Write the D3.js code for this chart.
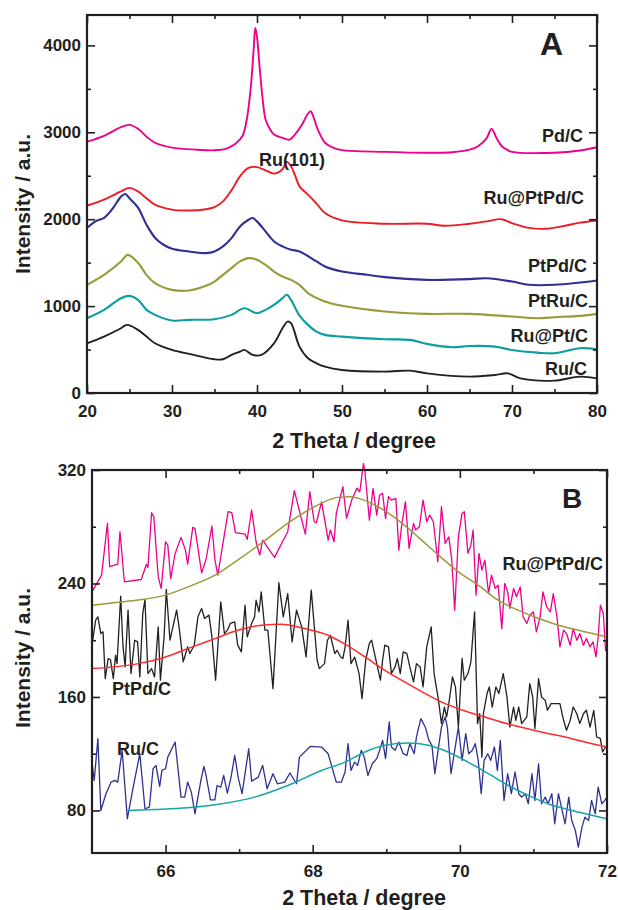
<!DOCTYPE html>
<html>
<head>
<meta charset="utf-8">
<script src="https://cdn.jsdelivr.net/npm/d3@7"></script>
<style>
  body { margin: 0; background: #fff; }
  svg text { font-family: "Liberation Sans", Arial, sans-serif; font-weight: bold; fill: #231f20; }
</style>
</head>
<body>
<div id="chart"></div>
<script>
// ---- panel A: XRD patterns, [2theta, intensity]
var pdC = [[20,2893],[22,2960],[24,3060],[25,3085],[26,3040],[27,2950],[28,2880],[30,2824],[33,2800],[35,2793],[36.5,2815],[37.5,2870],[38.3,2960],[38.8,3150],[39.3,3550],[39.6,3950],[39.8,4200],[40.0,4100],[40.3,3760],[40.7,3350],[41,3150],[41.5,3040],[42,2974],[43,2935],[43.8,2915],[44.5,2980],[45.3,3090],[45.9,3200],[46.3,3243],[46.7,3160],[47,3070],[47.5,2960],[48,2880],[49,2820],[50,2795],[55,2775],[60,2765],[63,2770],[65,2800],[66,2840],[67,2930],[67.6,3040],[68.2,2930],[68.8,2840],[69.5,2795],[70,2775],[75,2765],[78,2790],[80,2828]];
var ruPtPdC = [[20,2155],[22,2225],[24,2320],[25,2360],[26,2320],[27,2240],[28,2167],[30,2110],[32,2100],[34,2115],[35,2140],[36,2205],[37,2332],[38,2493],[39,2590],[40,2600],[41,2563],[42,2525],[43,2575],[43.5,2660],[44,2610],[44.5,2500],[45,2378],[46,2282],[47,2180],[48,2071],[50,1986],[55,1948],[60,1948],[62,1925],[65,1948],[67,1975],[68.8,2000],[70,1955],[72,1900],[74,1890],[76,1920],[78,1960],[80,1985]];
var ptPdC = [[20,1898],[21,1975],[22,2015],[23,2120],[24,2260],[24.5,2290],[25,2240],[26,2133],[27,1937],[28,1787],[29,1706],[30,1660],[32,1629],[34,1610],[35,1629],[36,1687],[37,1783],[38,1917],[39,1994],[39.5,2013],[40,1975],[41,1860],[42,1744],[43,1687],[44,1648],[45,1629],[47,1514],[48,1456],[50,1398],[53,1360],[55,1333],[60,1302],[65,1310],[67,1321],[70,1283],[72,1245],[75,1245],[78,1272],[80,1295]];
var ptRuC = [[20,1245],[22,1360],[24,1514],[24.8,1590],[26,1498],[27,1360],[28,1264],[30,1187],[32,1180],[34,1234],[35,1283],[36,1360],[37,1437],[38,1514],[39,1552],[40,1533],[41,1475],[42,1398],[43,1341],[44,1302],[45,1245],[46,1150],[48,1053],[50,1003],[55,938],[60,911],[65,911],[70,880],[73,861],[75,872],[78,888],[80,911]];
var ruPtC = [[20,861],[22,957],[24,1091],[25,1118],[26,1072],[27,957],[28,899],[30,834],[32,842],[35,849],[37,899],[38.5,976],[40,918],[41,957],[42,1014],[43,1091],[43.5,1130],[44,1072],[45,890],[46,784],[47,707],[48,669],[50,649],[55,619],[58,611],[60,565],[63,526],[65,541],[68,534],[70,495],[73,465],[75,457],[78,515],[80,503]];
var ruC = [[20,572],[22,649],[24,745],[24.7,784],[26,726],[27,649],[28,572],[30,496],[32,450],[35,388],[36,388],[37,438],[38,476],[38.5,496],[39.5,438],[40.5,438],[42,572],[43,745],[43.6,822],[44,803],[45,534],[46,400],[47,342],[48,303],[50,265],[55,246],[58,257],[60,226],[65,188],[68,207],[69.5,226],[71,168],[75,142],[78,188],[80,168]];

// ---- panel B: raw scans and their fitted peaks
var ruPtPdB = [[65.0,234.1],[65.13,245.9],[65.21,282.4],[65.24,251.8],[65.35,253.6],[65.38,276.5],[65.44,241.2],[65.67,242.8],[65.74,253.6],[65.76,251.3],[65.81,289.9],[65.84,287.1],[65.90,244.7],[65.94,236.5],[66.00,269.4],[66.03,267.1],[66.07,243.5],[66.13,261.2],[66.21,272.5],[66.27,263.5],[66.30,253.6],[66.37,279.5],[66.40,278.8],[66.49,247.5],[66.55,256.9],[66.63,280.5],[66.67,256.9],[66.71,245.9],[66.85,290.6],[66.90,289.9],[66.95,275.8],[67.08,274.8],[67.11,271.1],[67.17,291.8],[67.23,269.4],[67.28,260.0],[67.32,270.6],[67.48,258.4],[67.66,276.5],[67.75,305.4],[67.90,274.8],[67.96,304.7],[68.02,283.5],[68.05,282.8],[68.12,297.6],[68.21,270.6],[68.24,277.7],[68.29,269.4],[68.32,289.4],[68.41,308.2],[68.46,286.0],[68.53,298.8],[68.60,307.1],[68.64,304.7],[68.69,324.7],[68.71,318.8],[68.77,284.7],[68.82,307.1],[68.87,288.2],[68.91,302.4],[68.95,303.5],[68.99,285.9],[69.03,301.2],[69.07,298.8],[69.13,300.0],[69.17,263.5],[69.21,281.2],[69.26,297.6],[69.31,264.7],[69.37,282.4],[69.40,277.7],[69.45,280.0],[69.50,298.8],[69.55,283.5],[69.59,288.2],[69.64,283.5],[69.70,255.3],[69.75,294.1],[69.80,268.2],[69.85,272.9],[69.89,256.5],[69.93,221.2],[69.98,272.9],[70.03,289.4],[70.06,290.6],[70.11,261.2],[70.15,267.1],[70.18,277.7],[70.22,231.8],[70.26,261.2],[70.30,249.4],[70.34,256.5],[70.39,232.9],[70.43,245.9],[70.48,236.5],[70.52,238.8],[70.57,208.2],[70.61,240.0],[70.65,234.1],[70.68,222.4],[70.73,236.5],[70.77,230.6],[70.82,237.6],[70.86,216.5],[70.91,211.8],[70.95,217.6],[71.00,220.0],[71.04,205.9],[71.09,216.5],[71.13,234.1],[71.18,223.5],[71.23,220.0],[71.27,232.9],[71.32,216.5],[71.36,195.3],[71.41,207.1],[71.45,204.7],[71.50,196.5],[71.54,208.2],[71.59,200.0],[71.63,204.7],[71.68,196.5],[71.72,201.2],[71.77,195.3],[71.81,198.8],[71.85,188.2],[71.88,202.4],[71.91,224.7],[71.95,218.8],[71.98,192.9],[72.0,191.8]];
var ptPdB = [[65.01,200.0],[65.05,214.1],[65.08,216.5],[65.12,204.7],[65.15,205.9],[65.18,172.9],[65.22,187.1],[65.25,186.4],[65.29,172.9],[65.32,189.4],[65.34,183.5],[65.39,231.1],[65.42,196.5],[65.45,181.2],[65.49,221.2],[65.53,176.5],[65.58,200.0],[65.62,198.8],[65.65,174.1],[65.69,218.8],[65.72,228.7],[65.76,176.5],[65.81,180.0],[65.85,174.1],[65.90,209.4],[65.93,171.8],[65.98,202.4],[66.01,235.8],[66.06,200.0],[66.10,209.4],[66.15,221.2],[66.18,210.6],[66.24,184.7],[66.30,195.3],[66.33,190.6],[66.39,196.5],[66.44,216.5],[66.49,222.4],[66.53,215.3],[66.59,217.7],[66.63,202.4],[66.68,171.8],[66.75,227.1],[66.80,204.7],[66.84,207.1],[66.88,211.8],[66.94,212.9],[66.98,196.5],[67.03,191.8],[67.08,224.7],[67.11,202.4],[67.17,211.8],[67.21,216.5],[67.23,228.2],[67.27,220.0],[67.30,234.1],[67.35,207.1],[67.39,207.1],[67.46,165.9],[67.54,240.5],[67.60,216.5],[67.66,232.9],[67.72,198.8],[67.78,221.2],[67.85,209.4],[67.91,188.2],[67.98,235.3],[68.06,185.9],[68.09,180.0],[68.16,183.5],[68.20,200.0],[68.24,203.5],[68.30,190.6],[68.33,192.9],[68.38,188.2],[68.41,187.1],[68.44,195.3],[68.48,214.1],[68.52,183.5],[68.57,188.2],[68.63,176.5],[68.67,158.8],[68.72,185.9],[68.77,197.7],[68.80,200.0],[68.86,185.9],[68.92,171.8],[68.95,185.9],[68.98,196.5],[69.03,195.3],[69.07,176.5],[69.12,181.2],[69.15,187.1],[69.19,176.5],[69.23,191.8],[69.28,190.6],[69.32,181.2],[69.37,170.6],[69.41,183.5],[69.46,181.2],[69.50,167.1],[69.55,195.3],[69.61,209.4],[69.65,176.5],[69.71,157.6],[69.75,141.2],[69.79,152.9],[69.82,145.9],[69.85,155.3],[69.90,174.1],[69.94,167.1],[69.98,138.8],[70.03,187.1],[70.06,171.8],[70.11,176.5],[70.15,184.7],[70.20,220.0],[70.24,141.2],[70.27,148.2],[70.30,117.6],[70.32,148.2],[70.37,162.4],[70.40,167.1],[70.44,152.9],[70.49,167.1],[70.53,162.4],[70.59,176.5],[70.64,160.0],[70.68,138.8],[70.73,152.9],[70.76,143.5],[70.80,152.9],[70.84,141.2],[70.91,145.9],[70.95,169.4],[70.99,160.0],[71.02,137.6],[71.07,172.9],[71.11,160.0],[71.16,157.6],[71.19,150.6],[71.24,155.3],[71.29,155.3],[71.36,155.3],[71.41,143.5],[71.45,136.5],[71.50,143.5],[71.54,152.9],[71.59,148.2],[71.63,141.2],[71.68,148.2],[71.72,150.6],[71.77,138.8],[71.82,150.6],[71.86,131.8],[71.91,130.6],[71.94,121.2],[71.98,124.7]];
var ruB = [[65.0,114.1],[65.03,101.2],[65.08,130.6],[65.12,80.0],[65.19,91.8],[65.26,100.0],[65.31,101.2],[65.35,100.0],[65.41,122.4],[65.48,74.1],[65.56,96.5],[65.65,120.0],[65.72,81.2],[65.78,82.4],[65.83,109.4],[65.87,111.8],[65.92,96.9],[65.95,108.2],[66.00,109.4],[66.03,117.6],[66.13,128.2],[66.21,89.4],[66.26,89.4],[66.30,100.0],[66.35,92.9],[66.40,77.6],[66.48,101.2],[66.52,111.1],[66.55,104.7],[66.61,87.5],[66.67,87.5],[66.70,97.6],[66.75,96.5],[66.79,104.7],[66.84,92.2],[66.89,103.5],[66.94,118.8],[66.99,102.4],[67.04,91.8],[67.13,123.5],[67.17,100.7],[67.26,103.5],[67.32,111.8],[67.38,95.3],[67.46,105.9],[67.52,98.8],[67.62,100.0],[67.69,106.4],[67.78,98.8],[67.82,117.6],[67.97,125.2],[68.12,124.7],[68.21,120.0],[68.32,100.0],[68.39,100.0],[68.44,107.1],[68.48,127.1],[68.52,108.2],[68.57,114.1],[68.61,111.8],[68.66,122.4],[68.70,117.6],[68.75,104.7],[68.81,112.9],[68.87,116.5],[68.91,122.4],[68.95,129.4],[68.99,116.5],[69.04,142.4],[69.07,124.7],[69.12,122.4],[69.17,128.2],[69.23,120.0],[69.28,118.8],[69.32,127.1],[69.38,120.0],[69.41,131.8],[69.47,144.7],[69.53,138.8],[69.58,129.4],[69.62,125.9],[69.66,105.9],[69.71,124.7],[69.75,138.8],[69.80,145.9],[69.83,138.8],[69.88,105.9],[69.93,122.4],[69.98,138.8],[70.03,115.3],[70.08,134.1],[70.12,120.0],[70.17,122.4],[70.21,127.1],[70.25,115.3],[70.29,91.8],[70.33,115.3],[70.38,120.0],[70.42,115.3],[70.47,124.7],[70.51,108.2],[70.55,129.4],[70.60,87.1],[70.65,105.9],[70.70,91.8],[70.75,107.1],[70.80,91.8],[70.84,89.4],[70.89,91.8],[70.93,84.7],[70.98,105.9],[71.02,87.1],[71.07,112.9],[71.11,84.7],[71.16,89.4],[71.20,84.7],[71.25,91.8],[71.29,70.6],[71.34,91.8],[71.38,82.4],[71.43,70.6],[71.48,89.4],[71.52,72.9],[71.57,65.9],[71.61,54.1],[71.66,68.2],[71.70,75.3],[71.75,72.9],[71.79,87.1],[71.84,77.6],[71.88,96.5],[71.93,84.7],[71.97,87.1],[72.0,89.4]];
var ruPtPdFit = [[65.0,224.7],[65.5,227.6],[66.0,231.8],[66.35,238.5],[66.71,247.0],[66.98,256.5],[67.30,268.3],[67.66,282.4],[68.02,294.0],[68.34,300.7],[68.5,301.2],[68.62,300.0],[68.89,294.0],[69.16,284.7],[69.43,272.9],[69.71,260.0],[69.98,248.2],[70.25,238.8],[70.52,228.2],[70.79,221.2],[71.07,215.3],[71.34,210.6],[71.61,207.0],[72.0,202.3]];
var ptPdFit = [[65.0,180.0],[65.63,183.5],[66.0,188.2],[66.30,194.1],[66.67,201.1],[66.98,207.0],[67.30,210.6],[67.57,211.3],[67.89,208.2],[68.21,203.5],[68.44,197.2],[68.71,188.2],[68.98,178.8],[69.25,170.6],[69.53,162.4],[69.80,155.3],[70.07,150.1],[70.34,145.9],[70.61,141.6],[70.88,138.1],[71.16,134.6],[71.43,131.8],[71.70,128.2],[72.0,124.7]];
var ruFit = [[65.48,80.0],[65.85,80.7],[66.30,81.9],[66.76,84.7],[67.21,89.4],[67.66,97.6],[68.12,108.2],[68.44,114.1],[68.71,121.2],[68.98,125.9],[69.30,127.5],[69.57,125.9],[69.84,121.2],[70.11,114.1],[70.39,105.9],[70.66,97.6],[70.93,90.6],[71.20,84.7],[71.48,80.5],[71.75,77.2],[72.0,74.1]];

var ticksAX = [20,30,40,50,60,70,80], minorAX = [25,35,45,55,65,75];
var ticksAY = [0,1000,2000,3000,4000], minorAY = [500,1500,2500,3500];
var ticksBX = [66,68,70,72], minorBX = [67,69,71];
var ticksBY = [80,160,240,320], minorBY = [120,200,280];

var INK = "#231f20";

var svg = d3.select("#chart")
    .append("svg")
    .attr("width", 618)
    .attr("height", 910);

// draws frame + inward ticks on all four sides
function drawFrame(x, y, tx, mx, ty, my) {
    var x0 = x.range()[0], x1 = x.range()[1],
        yb = y.range()[0], yt = y.range()[1];
    var g = svg.append("g");

    function put(axis, tr) {
        var a = g.append("g").attr("transform", tr).call(axis);
        a.select(".domain").remove();
        a.selectAll("line").attr("stroke", INK).attr("stroke-width", 1.6);
        return a;
    }
    put(d3.axisBottom(x).tickValues(tx).tickSizeInner(-8).tickSizeOuter(0).tickPadding(12).tickFormat(d3.format("d")), "translate(0," + yb + ")");
    put(d3.axisBottom(x).tickValues(mx).tickSize(-4).tickFormat(""), "translate(0," + yb + ")");
    put(d3.axisTop(x).tickValues(tx).tickSize(-8).tickFormat(""), "translate(0," + yt + ")");
    put(d3.axisTop(x).tickValues(mx).tickSize(-4).tickFormat(""), "translate(0," + yt + ")");
    put(d3.axisLeft(y).tickValues(ty).tickSizeInner(-8).tickSizeOuter(0).tickPadding(6).tickFormat(d3.format("d")), "translate(" + x0 + ",0)");
    put(d3.axisLeft(y).tickValues(my).tickSize(-4).tickFormat(""), "translate(" + x0 + ",0)");
    put(d3.axisRight(y).tickValues(ty).tickSize(-8).tickFormat(""), "translate(" + x1 + ",0)");
    put(d3.axisRight(y).tickValues(my).tickSize(-4).tickFormat(""), "translate(" + x1 + ",0)");

    g.selectAll("text")
        .attr("fill", INK)
        .style("font-family", "'Liberation Sans', Arial, sans-serif")
        .style("font-weight", "bold")
        .style("font-size", "17px");

    g.append("rect")
        .attr("x", x0).attr("y", yt)
        .attr("width", x1 - x0).attr("height", yb - yt)
        .attr("fill", "none")
        .attr("stroke", INK)
        .attr("stroke-width", 2.2);
}

function drawLine(data, x, y, color, width, curve) {
    svg.append("path")
        .datum(data)
        .attr("fill", "none")
        .attr("stroke", color)
        .attr("stroke-width", width)
        .attr("stroke-linejoin", "round")
        .attr("d", d3.line()
            .x(function(d) { return x(d[0]); })
            .y(function(d) { return y(d[1]); })
            .curve(curve));
}

function label(txt, px, py, anchor, size) {
    svg.append("text")
        .attr("x", px).attr("y", py)
        .attr("text-anchor", anchor || "start")
        .style("font-size", (size || 18) + "px")
        .text(txt);
}

// ---------- panel A
var xA = d3.scaleLinear().domain([20, 80]).range([87, 597]);
var yA = d3.scaleLinear().domain([0, 4350]).range([393, 15]);
var smooth = d3.curveCatmullRom.alpha(0.5);

drawLine(pdC, xA, yA, "#ec008c", 1.9, smooth);
drawLine(ruPtPdC, xA, yA, "#ed1c24", 1.9, smooth);
drawLine(ptPdC, xA, yA, "#2e3192", 2.1, smooth);
drawLine(ptRuC, xA, yA, "#999a3a", 2.1, smooth);
drawLine(ruPtC, xA, yA, "#0b9ea0", 2.1, smooth);
drawLine(ruC, xA, yA, "#231f20", 1.9, smooth);
drawFrame(xA, yA, ticksAX, minorAX, ticksAY, minorAY);

label("Pd/C", 583, 142, "end");
label("Ru@PtPd/C", 584, 204, "end");
label("PtPd/C", 587, 272, "end");
label("PtRu/C", 588, 307, "end");
label("Ru@Pt/C", 588, 342, "end");
label("Ru/C", 587, 375, "end");
label("Ru(101)", 259, 166, "start");
label("A", 540, 55, "start", 32);
label("2 Theta / degree", 354, 448, "middle", 21.5);
svg.append("text")
    .attr("transform", "translate(30,204) rotate(-90)")
    .attr("text-anchor", "middle")
    .style("font-size", "21px")
    .text("Intensity / a.u.");

// ---------- panel B
var xB = d3.scaleLinear().domain([65, 72]).range([92, 607]);
var yB = d3.scaleLinear().domain([50, 320]).range([853, 470]);

drawLine(ruPtPdB, xB, yB, "#ec008c", 1.3, d3.curveLinear);
drawLine(ptPdB, xB, yB, "#231f20", 1.3, d3.curveLinear);
drawLine(ruB, xB, yB, "#2e3192", 1.3, d3.curveLinear);
drawLine(ruPtPdFit, xB, yB, "#9a9a3c", 1.5, d3.curveMonotoneX);
drawLine(ptPdFit, xB, yB, "#ff2a2a", 1.5, d3.curveMonotoneX);
drawLine(ruFit, xB, yB, "#15a5a8", 1.5, d3.curveMonotoneX);
drawFrame(xB, yB, ticksBX, minorBX, ticksBY, minorBY);

label("Ru@PtPd/C", 603, 570, "end");
label("PtPd/C", 112, 695, "start");
label("Ru/C", 117, 755, "start");
label("B", 562, 508, "start", 28);
label("2 Theta / degree", 364, 905, "middle", 21.5);
svg.append("text")
    .attr("transform", "translate(30,658) rotate(-90)")
    .attr("text-anchor", "middle")
    .style("font-size", "21px")
    .text("Intensity / a.u.");
</script>
</body>
</html>
